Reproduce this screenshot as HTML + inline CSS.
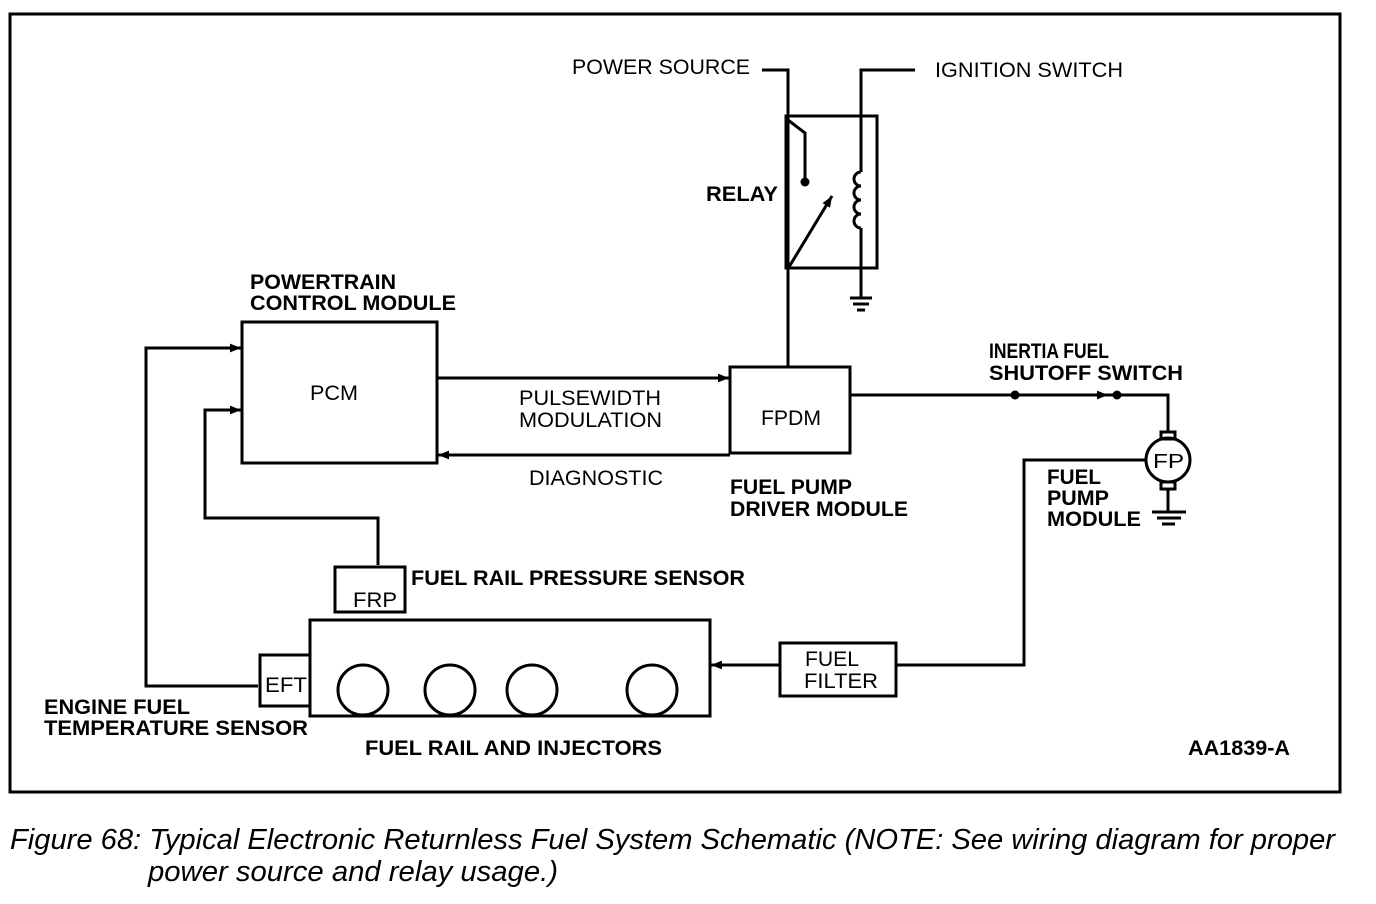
<!DOCTYPE html>
<html><head><style>body{margin:0;background:#fff}svg{display:block}</style></head><body>
<svg width="1376" height="904" viewBox="0 0 1376 904" xmlns="http://www.w3.org/2000/svg" font-family="Liberation Sans, sans-serif">
<defs><marker id="a" viewBox="0 0 10 10" refX="10" refY="5" markerWidth="13" markerHeight="11" orient="auto" markerUnits="userSpaceOnUse"><path d="M0,1 L10,5 L0,9 z" fill="#000"/></marker></defs>
<g fill="none" stroke="#000" stroke-width="3">
<rect x="10" y="14" width="1330" height="778"/>
<rect x="786" y="116" width="91" height="152"/>
<polyline points="762,70 788,70 788,367"/>
<polyline points="915,70 861,70 861,172"/>
<path d="M861,172 a7,7 0 0 0 0,14 a7,7 0 0 0 0,14 a7,7 0 0 0 0,14 a7,7 0 0 0 0,14"/>
<polyline points="861,228 861,298"/>
<polyline points="788,120 805,133 805,180"/>
<line x1="789" y1="267" x2="832" y2="196" marker-end="url(#a)"/>
<line x1="850" y1="298" x2="872" y2="298"/><line x1="853" y1="304" x2="869" y2="304"/><line x1="857" y1="310" x2="865" y2="310"/>
<rect x="242" y="322" width="195" height="141"/>
<rect x="730" y="367" width="120" height="86"/>
<line x1="437" y1="378" x2="729" y2="378" marker-end="url(#a)"/>
<line x1="730" y1="455" x2="438" y2="455" marker-end="url(#a)"/>
<polyline points="258,686 146,686 146,348 241,348" marker-end="url(#a)"/>
<polyline points="378,565 378,518 205,518 205,410 241,410" marker-end="url(#a)"/>
<rect x="335" y="567" width="70" height="45"/>
<rect x="310" y="620" width="400" height="96"/>
<rect x="260" y="655" width="50" height="51"/>
<circle cx="363" cy="690" r="25"/><circle cx="450" cy="690" r="25"/><circle cx="532" cy="690" r="25"/><circle cx="652" cy="690" r="25"/>
<rect x="780" y="643" width="116" height="53"/>
<line x1="780" y1="665" x2="711" y2="665" marker-end="url(#a)"/>
<polyline points="896,665 1024,665 1024,460 1146,460"/>
<polyline points="850,395 1168,395 1168,432"/>
<line x1="1050" y1="395" x2="1108" y2="395" marker-end="url(#a)"/>
<circle cx="1168" cy="460" r="22"/>
<rect x="1161" y="432" width="14" height="7"/><rect x="1161" y="482" width="14" height="7"/>
<line x1="1168" y1="489" x2="1168" y2="512"/>
<line x1="1152" y1="512" x2="1186" y2="512"/><line x1="1157" y1="518" x2="1181" y2="518"/><line x1="1162" y1="524" x2="1175" y2="524"/>
</g>
<circle cx="805" cy="182" r="4.5"/><circle cx="1015" cy="395" r="4.5"/><circle cx="1117" cy="395" r="4.5"/>
<g font-size="21" fill="#000" lengthAdjust="spacingAndGlyphs">
<text x="572" y="74" textLength="178" lengthAdjust="spacingAndGlyphs">POWER SOURCE</text>
<text x="935" y="77" textLength="188" lengthAdjust="spacingAndGlyphs">IGNITION SWITCH</text>
<text x="310" y="400" textLength="48" lengthAdjust="spacingAndGlyphs">PCM</text>
<text x="761" y="425" textLength="60" lengthAdjust="spacingAndGlyphs">FPDM</text>
<text x="519" y="405" textLength="142" lengthAdjust="spacingAndGlyphs">PULSEWIDTH</text>
<text x="519" y="427" textLength="143" lengthAdjust="spacingAndGlyphs">MODULATION</text>
<text x="529" y="485" textLength="134" lengthAdjust="spacingAndGlyphs">DIAGNOSTIC</text>
<text x="353" y="607" textLength="44" lengthAdjust="spacingAndGlyphs">FRP</text>
<text x="265" y="692" textLength="42" lengthAdjust="spacingAndGlyphs">EFT</text>
<text x="1153" y="468" font-size="20" textLength="31" lengthAdjust="spacingAndGlyphs">FP</text>
<text x="805" y="666" textLength="54" lengthAdjust="spacingAndGlyphs">FUEL</text>
<text x="804" y="688" textLength="74" lengthAdjust="spacingAndGlyphs">FILTER</text>
</g>
<g font-size="21" font-weight="bold" fill="#000">
<text x="706" y="201" textLength="72" lengthAdjust="spacingAndGlyphs">RELAY</text>
<text x="250" y="289" textLength="146" lengthAdjust="spacingAndGlyphs">POWERTRAIN</text>
<text x="250" y="310" textLength="206" lengthAdjust="spacingAndGlyphs">CONTROL MODULE</text>
<text x="989" y="358" textLength="120" lengthAdjust="spacingAndGlyphs">INERTIA FUEL</text>
<text x="989" y="380" textLength="194" lengthAdjust="spacingAndGlyphs">SHUTOFF SWITCH</text>
<text x="730" y="494" textLength="122" lengthAdjust="spacingAndGlyphs">FUEL PUMP</text>
<text x="730" y="516" textLength="178" lengthAdjust="spacingAndGlyphs">DRIVER MODULE</text>
<text x="1047" y="484" textLength="54" lengthAdjust="spacingAndGlyphs">FUEL</text>
<text x="1047" y="505" textLength="62" lengthAdjust="spacingAndGlyphs">PUMP</text>
<text x="1047" y="526" textLength="94" lengthAdjust="spacingAndGlyphs">MODULE</text>
<text x="411" y="585" textLength="334" lengthAdjust="spacingAndGlyphs">FUEL RAIL PRESSURE SENSOR</text>
<text x="44" y="714" textLength="146" lengthAdjust="spacingAndGlyphs">ENGINE FUEL</text>
<text x="44" y="735" textLength="264" lengthAdjust="spacingAndGlyphs">TEMPERATURE SENSOR</text>
<text x="365" y="755" textLength="297" lengthAdjust="spacingAndGlyphs">FUEL RAIL AND INJECTORS</text>
<text x="1188" y="755" textLength="102" lengthAdjust="spacingAndGlyphs">AA1839-A</text>
</g>
<g font-size="29" font-style="italic" fill="#000">
<text x="10" y="849" textLength="1325" lengthAdjust="spacingAndGlyphs">Figure 68: Typical Electronic Returnless Fuel System Schematic (NOTE: See wiring diagram for proper</text>
<text x="148" y="881" textLength="410" lengthAdjust="spacingAndGlyphs">power source and relay usage.)</text>
</g>
</svg>
</body></html>
